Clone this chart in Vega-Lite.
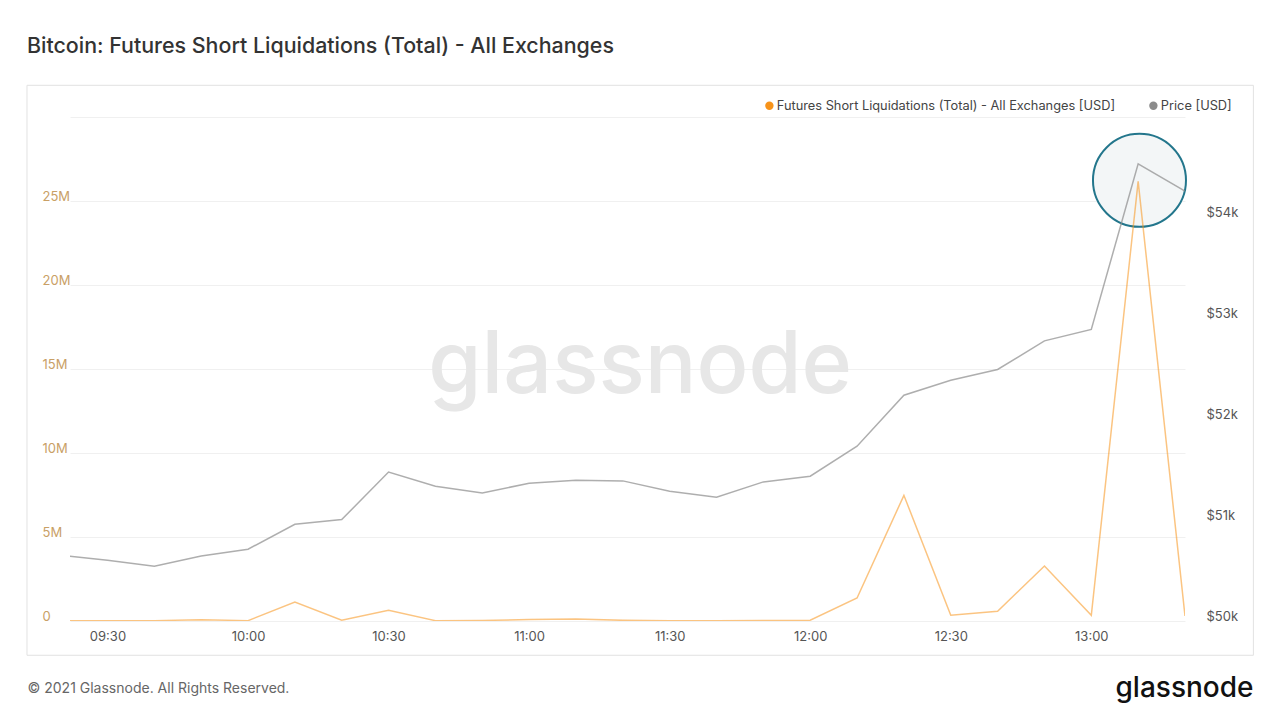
{
  "$schema": "https://vega.github.io/schema/vega-lite/v6.json",
  "width": 1115,
  "height": 504,
  "autosize": {"type": "none"},
  "padding": {"left": 70, "top": 117, "right": 95, "bottom": 99},
  "background": "white",
  "config": {"view": {"stroke": null}, "font": "Inter"},
  "title": {
    "text": "Bitcoin: Futures Short Liquidations (Total) - All Exchanges",
    "anchor": "start",
    "frame": "group",
    "dx": -43,
    "offset": 27,
    "fontSize": 21.4,
    "fontWeight": 500,
    "color": "#333333",
    "font": "Inter"
  },
  "data": {
    "values": [
      {"time": "2021-02-08T09:20:00", "liq": 10000, "price": 50652},
      {"time": "2021-02-08T09:30:00", "liq": 10000, "price": 50602},
      {"time": "2021-02-08T09:40:00", "liq": 20000, "price": 50543},
      {"time": "2021-02-08T09:50:00", "liq": 80000, "price": 50645},
      {"time": "2021-02-08T10:00:00", "liq": 20000, "price": 50712},
      {"time": "2021-02-08T10:10:00", "liq": 1130000, "price": 50960},
      {"time": "2021-02-08T10:20:00", "liq": 50000, "price": 51006},
      {"time": "2021-02-08T10:30:00", "liq": 640000, "price": 51478},
      {"time": "2021-02-08T10:40:00", "liq": 20000, "price": 51337},
      {"time": "2021-02-08T10:50:00", "liq": 30000, "price": 51270},
      {"time": "2021-02-08T11:00:00", "liq": 90000, "price": 51367},
      {"time": "2021-02-08T11:10:00", "liq": 120000, "price": 51396},
      {"time": "2021-02-08T11:20:00", "liq": 40000, "price": 51390},
      {"time": "2021-02-08T11:30:00", "liq": 20000, "price": 51287},
      {"time": "2021-02-08T11:40:00", "liq": 20000, "price": 51228},
      {"time": "2021-02-08T11:50:00", "liq": 30000, "price": 51380},
      {"time": "2021-02-08T12:00:00", "liq": 50000, "price": 51436},
      {"time": "2021-02-08T12:10:00", "liq": 1370000, "price": 51734},
      {"time": "2021-02-08T12:20:00", "liq": 7480000, "price": 52240},
      {"time": "2021-02-08T12:30:00", "liq": 340000, "price": 52389},
      {"time": "2021-02-08T12:40:00", "liq": 580000, "price": 52495},
      {"time": "2021-02-08T12:50:00", "liq": 3270000, "price": 52779},
      {"time": "2021-02-08T13:00:00", "liq": 340000, "price": 52892},
      {"time": "2021-02-08T13:10:00", "liq": 26170000, "price": 54536},
      {"time": "2021-02-08T13:20:00", "liq": 300000, "price": 54265}
    ]
  },
  "layer": [
    {
      "layer": [
        {
          "data": {"values": [{"start": "2021-02-08T09:12:49", "end": "2021-02-08T13:34:36", "low": -2040000, "high": 31887000}]},
          "mark": {"type": "rect", "fill": null, "stroke": "#e2e2e2", "strokeWidth": 1},
          "encoding": {
            "x": {
              "field": "start",
              "type": "temporal",
              "axis": {
                "format": "%H:%M",
                "values": [
                  {"year": 2021, "month": 2, "date": 8, "hours": 9, "minutes": 30},
                  {"year": 2021, "month": 2, "date": 8, "hours": 10, "minutes": 0},
                  {"year": 2021, "month": 2, "date": 8, "hours": 10, "minutes": 30},
                  {"year": 2021, "month": 2, "date": 8, "hours": 11, "minutes": 0},
                  {"year": 2021, "month": 2, "date": 8, "hours": 11, "minutes": 30},
                  {"year": 2021, "month": 2, "date": 8, "hours": 12, "minutes": 0},
                  {"year": 2021, "month": 2, "date": 8, "hours": 12, "minutes": 30},
                  {"year": 2021, "month": 2, "date": 8, "hours": 13, "minutes": 0}
                ],
                "grid": false, "domain": false, "ticks": false, "labelPadding": 9, "labelColor": "#555555", "labelFontSize": 13, "labelFont": "Inter", "title": null
              }
            },
            "x2": {"field": "end"},
            "y": {"field": "low", "type": "quantitative", "scale": {"domain": [0, 30000000], "zero": false, "nice": false}, "axis": null},
            "y2": {"field": "high"}
          }
        },
        {
          "data": {"values": [{"label": "glassnode", "time": "2021-02-08T11:23:43", "value": 13600000}]},
          "mark": {"type": "text", "font": "Inter", "fontSize": 86, "fontWeight": 500, "color": "#e7e7e7", "align": "center", "baseline": "alphabetic"},
          "encoding": {
            "x": {
              "field": "time",
              "type": "temporal",
              "axis": {
                "format": "%H:%M",
                "values": [
                  {"year": 2021, "month": 2, "date": 8, "hours": 9, "minutes": 30},
                  {"year": 2021, "month": 2, "date": 8, "hours": 10, "minutes": 0},
                  {"year": 2021, "month": 2, "date": 8, "hours": 10, "minutes": 30},
                  {"year": 2021, "month": 2, "date": 8, "hours": 11, "minutes": 0},
                  {"year": 2021, "month": 2, "date": 8, "hours": 11, "minutes": 30},
                  {"year": 2021, "month": 2, "date": 8, "hours": 12, "minutes": 0},
                  {"year": 2021, "month": 2, "date": 8, "hours": 12, "minutes": 30},
                  {"year": 2021, "month": 2, "date": 8, "hours": 13, "minutes": 0}
                ],
                "grid": false, "domain": false, "ticks": false, "labelPadding": 9, "labelColor": "#555555", "labelFontSize": 13, "labelFont": "Inter", "title": null
              }
            },
            "y": {"field": "value", "type": "quantitative", "axis": null},
            "text": {"field": "label"}
          }
        },
        {
          "data": {"values": [{"time": "2021-02-08T13:10:17", "value": 26230000}]},
          "mark": {"type": "point", "shape": "circle", "filled": true, "fill": "#f3f6f7", "stroke": "#23768c", "strokeWidth": 2, "opacity": 1, "size": 8650},
          "encoding": {
            "x": {
              "field": "time",
              "type": "temporal",
              "axis": {
                "format": "%H:%M",
                "values": [
                  {"year": 2021, "month": 2, "date": 8, "hours": 9, "minutes": 30},
                  {"year": 2021, "month": 2, "date": 8, "hours": 10, "minutes": 0},
                  {"year": 2021, "month": 2, "date": 8, "hours": 10, "minutes": 30},
                  {"year": 2021, "month": 2, "date": 8, "hours": 11, "minutes": 0},
                  {"year": 2021, "month": 2, "date": 8, "hours": 11, "minutes": 30},
                  {"year": 2021, "month": 2, "date": 8, "hours": 12, "minutes": 0},
                  {"year": 2021, "month": 2, "date": 8, "hours": 12, "minutes": 30},
                  {"year": 2021, "month": 2, "date": 8, "hours": 13, "minutes": 0}
                ],
                "grid": false, "domain": false, "ticks": false, "labelPadding": 9, "labelColor": "#555555", "labelFontSize": 13, "labelFont": "Inter", "title": null
              }
            },
            "y": {"field": "value", "type": "quantitative", "axis": null}
          }
        }
      ]
    },
    {
      "mark": {"type": "line", "strokeWidth": 1.5, "strokeOpacity": 0.55, "clip": true},
      "encoding": {
        "x": {
          "field": "time",
          "type": "temporal",
          "scale": {
            "domain": [
              {"year": 2021, "month": 2, "date": 8, "hours": 9, "minutes": 22},
              {"year": 2021, "month": 2, "date": 8, "hours": 13, "minutes": 20}
            ]
          },
          "axis": {
            "format": "%H:%M",
            "values": [
              {"year": 2021, "month": 2, "date": 8, "hours": 9, "minutes": 30},
              {"year": 2021, "month": 2, "date": 8, "hours": 10, "minutes": 0},
              {"year": 2021, "month": 2, "date": 8, "hours": 10, "minutes": 30},
              {"year": 2021, "month": 2, "date": 8, "hours": 11, "minutes": 0},
              {"year": 2021, "month": 2, "date": 8, "hours": 11, "minutes": 30},
              {"year": 2021, "month": 2, "date": 8, "hours": 12, "minutes": 0},
              {"year": 2021, "month": 2, "date": 8, "hours": 12, "minutes": 30},
              {"year": 2021, "month": 2, "date": 8, "hours": 13, "minutes": 0}
            ],
            "grid": false, "domain": false, "ticks": false, "labelPadding": 9, "labelColor": "#555555", "labelFontSize": 13, "labelFont": "Inter", "title": null
          }
        },
        "y": {
          "field": "liq",
          "type": "quantitative",
          "scale": {"domain": [0, 30000000], "zero": false, "nice": false},
          "axis": {
            "orient": "left",
            "values": [0, 5000000, 10000000, 15000000, 20000000, 25000000, 30000000],
            "labelExpr": "datum.value >= 30000000 ? '' : (datum.value == 0 ? '0' : (datum.value / 1000000) + 'M')",
            "grid": true,
            "gridColor": "#f0f0f0",
            "gridWidth": 1,
            "domain": false,
            "ticks": false,
            "labelAlign": "left",
            "labelBaseline": "alphabetic",
            "labelOffset": -1,
            "labelPadding": 28,
            "labelColor": "#c9a066",
            "labelFontSize": 13,
            "labelFont": "Inter",
            "title": "© 2021 Glassnode. All Rights Reserved.",
            "titleAngle": 0,
            "titleAlign": "left",
            "titleBaseline": "middle",
            "titleX": -43,
            "titleY": 571,
            "titleFont": "Inter",
            "titleFontSize": 14,
            "titleFontWeight": 400,
            "titleColor": "#666666"
          }
        },
        "color": {
          "datum": "Futures Short Liquidations (Total) - All Exchanges [USD]",
          "type": "nominal",
          "scale": {
            "domain": ["Futures Short Liquidations (Total) - All Exchanges [USD]", "Price [USD]"],
            "range": ["#f7931a", "#8c8c8c"]
          },
          "legend": {
            "orient": "none",
            "legendX": 693,
            "legendY": -18,
            "direction": "horizontal",
            "columns": 2,
            "title": null,
            "padding": 0,
            "symbolType": "circle",
            "symbolSize": 70,
            "symbolOpacity": 1,
            "symbolStrokeWidth": 0,
            "labelOffset": 1,
            "columnPadding": 31,
            "labelFont": "Inter",
            "labelFontSize": 12.8,
            "labelColor": "#444444",
            "labelLimit": 500,
            "encode": {
              "symbols": {"update": {"fill": {"scale": "color", "field": "value"}, "opacity": {"value": 1}}}
            }
          }
        }
      }
    },
    {
      "mark": {"type": "line", "strokeWidth": 1.5, "strokeOpacity": 0.7, "clip": true},
      "encoding": {
        "x": {
          "field": "time",
          "type": "temporal",
          "axis": {
            "format": "%H:%M",
            "values": [
              {"year": 2021, "month": 2, "date": 8, "hours": 9, "minutes": 30},
              {"year": 2021, "month": 2, "date": 8, "hours": 10, "minutes": 0},
              {"year": 2021, "month": 2, "date": 8, "hours": 10, "minutes": 30},
              {"year": 2021, "month": 2, "date": 8, "hours": 11, "minutes": 0},
              {"year": 2021, "month": 2, "date": 8, "hours": 11, "minutes": 30},
              {"year": 2021, "month": 2, "date": 8, "hours": 12, "minutes": 0},
              {"year": 2021, "month": 2, "date": 8, "hours": 12, "minutes": 30},
              {"year": 2021, "month": 2, "date": 8, "hours": 13, "minutes": 0}
            ],
            "grid": false, "domain": false, "ticks": false, "labelPadding": 9, "labelColor": "#555555", "labelFontSize": 13, "labelFont": "Inter", "title": null
          }
        },
        "y": {
          "field": "price",
          "type": "quantitative",
          "scale": {"domain": [50000, 55000], "zero": false, "nice": false},
          "axis": {
            "orient": "right",
            "values": [50000, 51000, 52000, 53000, 54000],
            "labelExpr": "'$' + (datum.value / 1000) + 'k'",
            "grid": false,
            "domain": false,
            "ticks": false,
            "labelAlign": "left",
            "labelBaseline": "alphabetic",
            "labelOffset": -1,
            "labelPadding": 21,
            "labelColor": "#555555",
            "labelFontSize": 13,
            "labelFont": "Inter",
            "title": "glassnode",
            "titleAngle": 0,
            "titleAlign": "right",
            "titleBaseline": "middle",
            "titleX": 68,
            "titleY": 571,
            "titleFont": "Inter",
            "titleFontSize": 28,
            "titleFontWeight": 500,
            "titleColor": "#111111"
          }
        },
        "color": {"datum": "Price [USD]", "type": "nominal"}
      }
    }
  ],
  "resolve": {"scale": {"y": "independent"}}
}
